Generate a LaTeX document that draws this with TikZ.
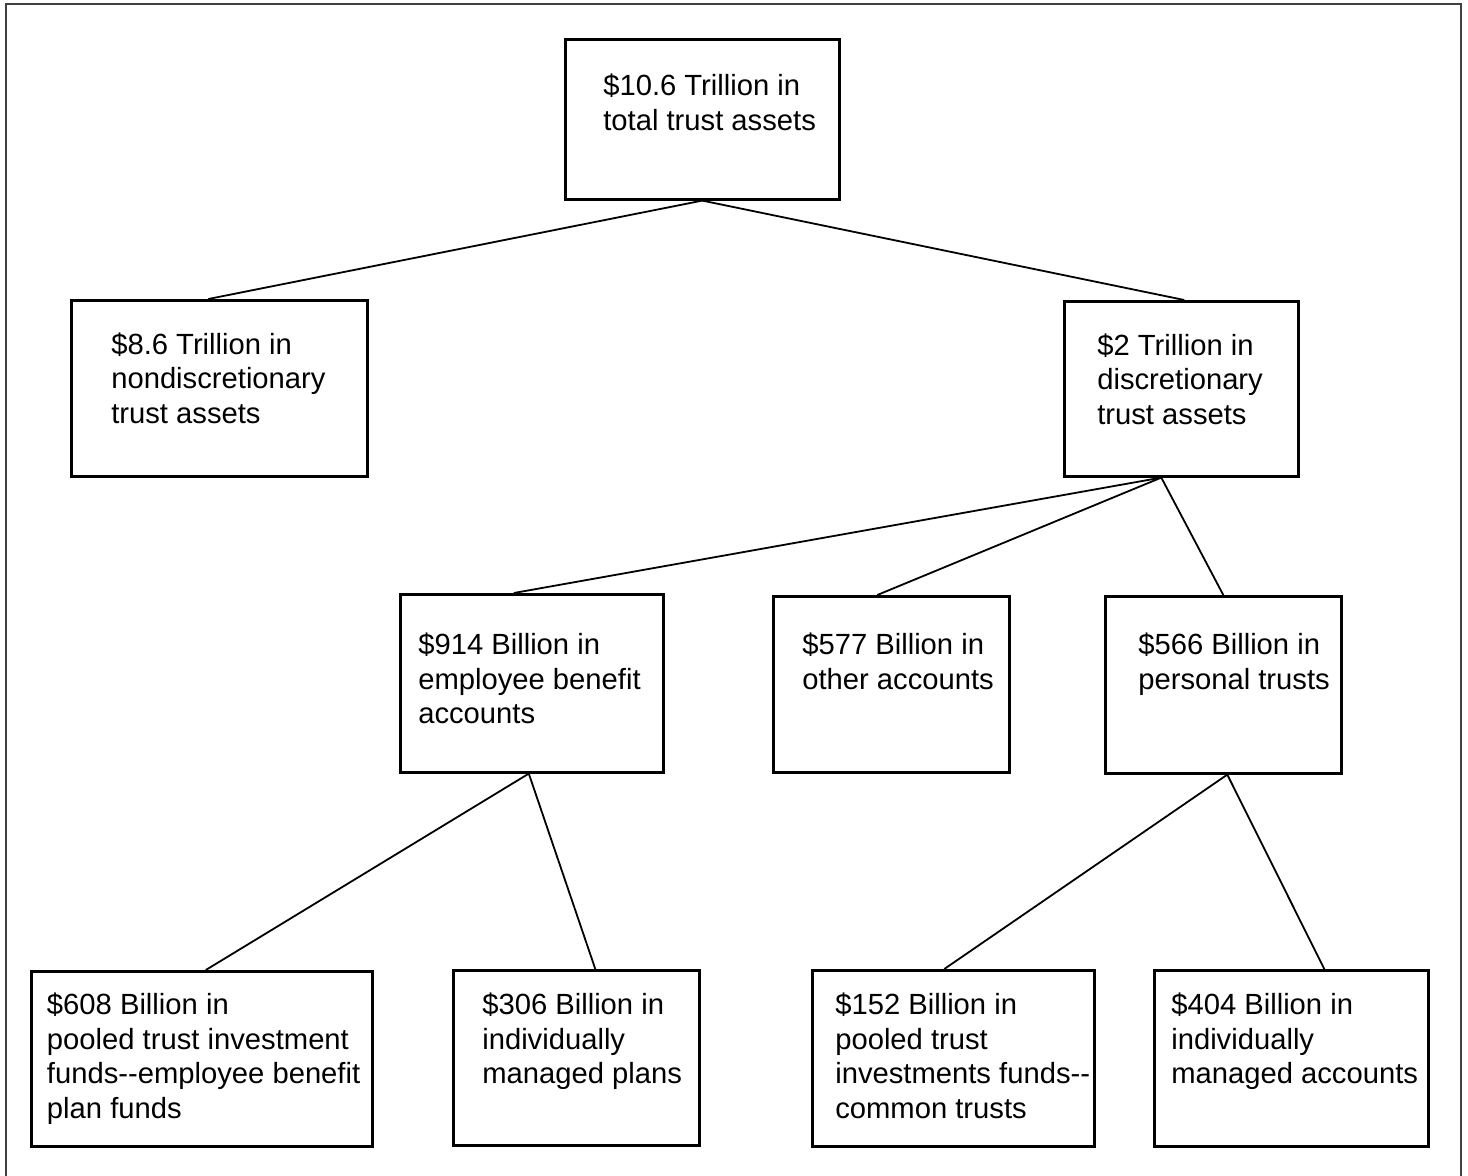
\documentclass[tikz,border=0pt]{standalone}
\usepackage{fontspec}
\setmainfont{Liberation Sans}

% box contents: width, height, left pad, top pad, lines
\newcommand{\boxtext}[5]{%
  \parbox[c][#2pt][t]{#1pt}{\vspace*{#4pt}%
    \begin{tabular}[t]{@{\hspace*{#3pt}}l@{}}#5\end{tabular}}}

\tikzset{
  box/.style={draw, line width=2.6pt, anchor=north west, inner sep=0pt,
    font=\fontsize{29.2}{34.7}\selectfont},
  link/.style={line width=1.8pt},
  frame/.style={line width=2pt, black!75}
}

\begin{document}
\begin{tikzpicture}[x=1pt, y=-1pt]
    \useasboundingbox (0, 0) rectangle (1468, 1176);
    \draw[frame] (6, 1176) -- (6, 4) -- (1461, 4) -- (1461, 1176);

    % first two levels
    \node[box] (total) at (564, 38)
         {\boxtext{274}{160}{38}{32.2}{\$10.6 Trillion in\\ total trust assets}};
    \node[box] (nondisc) at (70, 299)
         {\boxtext{296}{176}{40}{29.7}{\$8.6 Trillion in\\ nondiscretionary\\ trust assets}};
    \node[box] (disc) at (1063, 300)
         {\boxtext{234}{175}{33}{29.7}{\$2 Trillion in\\ discretionary\\ trust assets}};

    % discretionary accounts
    \node[box] (benefit) at (399, 593)
         {\boxtext{263}{178}{18}{35.7}{\$914 Billion in\\ employee benefit\\ accounts}};
    \node[box] (other) at (772, 595)
         {\boxtext{236}{176}{29}{33.7}{\$577 Billion in\\ other accounts}};
    \node[box] (personal) at (1104, 595)
         {\boxtext{236}{177}{33}{33.7}{\$566 Billion in\\ personal trusts}};

    % bottom row
    \node[box] (pooledeb) at (30, 970)
         {\boxtext{341}{175}{15.7}{18.7}{\$608 Billion in\\ pooled trust investment\\
          funds{-}{-}employee benefit\\ plan funds}};
    \node[box] (plans) at (452, 969)
         {\boxtext{246}{175}{29}{19.7}{\$306 Billion in\\ individually\\ managed plans}};
    \node[box] (pooledct) at (811, 969)
         {\boxtext{282}{176}{23}{19.7}{\$152 Billion in\\ pooled trust\\
          investments funds{-}{-}\\ common trusts}};
    \node[box] (managed) at (1153, 969)
         {\boxtext{274}{176}{17}{19.7}{\$404 Billion in\\ individually\\ managed accounts}};

    \draw[link] (total.south) -- ([xshift=-11pt]nondisc.north);
    \draw[link] (total.south) -- ([xshift=3pt]disc.north);
    \draw[link] ([xshift=-20pt]disc.south) -- ([xshift=-18pt]benefit.north);
    \draw[link] ([xshift=-20pt]disc.south) -- ([xshift=-14pt]other.north);
    \draw[link] ([xshift=-20pt]disc.south) -- (personal.north);
    \draw[link] ([xshift=-3pt]benefit.south) -- ([xshift=4pt]pooledeb.north);
    \draw[link] ([xshift=-3pt]benefit.south) -- ([xshift=19pt]plans.north);
    \draw[link] ([xshift=4pt]personal.south) -- ([xshift=-9pt]pooledct.north);
    \draw[link] ([xshift=4pt]personal.south) -- ([xshift=33pt]managed.north);
\end{tikzpicture}
\end{document}
